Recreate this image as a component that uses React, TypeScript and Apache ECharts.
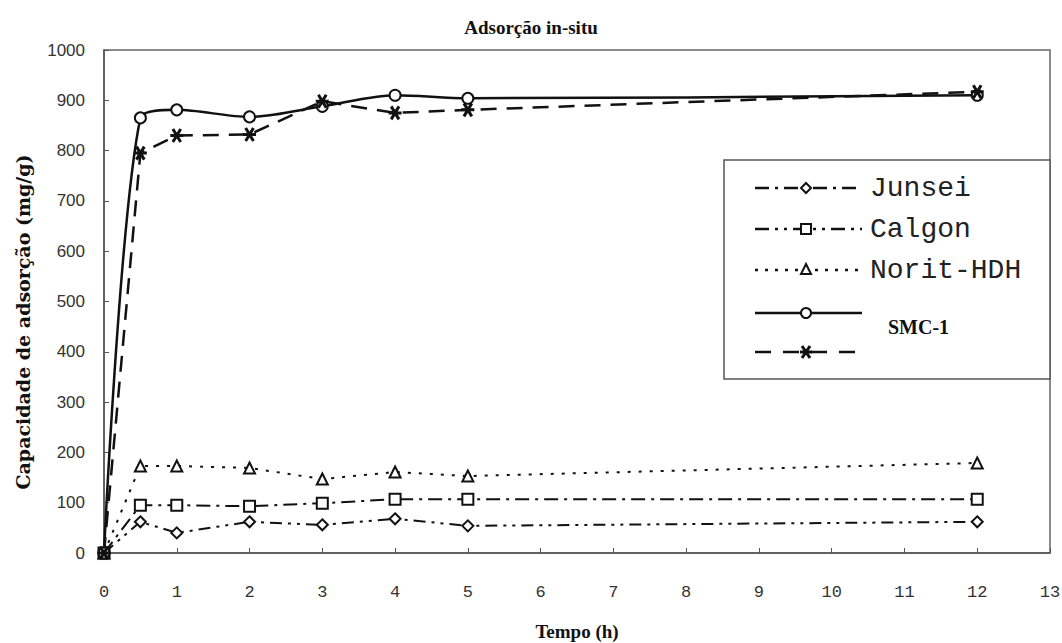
import React, { useEffect, useRef } from "react";
import * as echarts from "echarts";

const xTicks = [0, 1, 2, 3, 4, 5, 6, 7, 8, 9, 10, 11, 12, 13];
const times = [0, 0.5, 1, 2, 3, 4, 5, 12];
const junsei = [0, 62, 40, 62, 56, 68, 54, 62];
const calgon = [0, 95, 95, 93, 99, 107, 107, 107];
const norit = [0, 173, 173, 169, 147, 161, 153, 179];
const smc1 = [0, 865, 881, 867, 888, 910, 904, 910];
const smc1b = [0, 795, 830, 832, 898, 875, 881, 917];
const legendNames = ["Junsei", "Calgon", "Norit-HDH"];
const titleText = "Adsorção in-situ";
const xName = "Tempo (h)";
const yName = "Capacidade de adsorção (mg/g)";

const STAR = "path://M0,5L10,5M2,0L8,10M8,0L2,10";

function pairs(vals: number[]) {
  return times.map((t, i) => [t, vals[i]]);
}

export default function App() {
  const ref = useRef<HTMLDivElement>(null);
  useEffect(() => {
    const chart = echarts.init(ref.current!, null, { renderer: "svg" });
    const mk = { color: "#fff", borderColor: "#111", borderWidth: 2 };
    const line = (dash: any, w = 2) => ({ color: "#111", width: w, type: dash });

    const lx0 = 755, lx1 = 862, mx = 806;
    const rows = [188, 229, 270, 313, 352];
    const dashes: any[] = [[14, 6, 3, 6], [14, 6, 3, 6, 3, 6], [3, 7], null, [16, 12]];
    const g: any[] = [
      { type: "rect", shape: { x: 724, y: 160, width: 326, height: 219 }, style: { fill: "#fff", stroke: "#555", lineWidth: 1.5 }, z: 10 },
    ];
    rows.forEach((y, i) => {
      g.push({ type: "line", shape: { x1: lx0, y1: y, x2: lx1, y2: y }, style: { stroke: "#111", lineWidth: 2.5, lineDash: dashes[i] || undefined }, z: 11 });
    });
    const ms = { fill: "#fff", stroke: "#111", lineWidth: 2 };
    g.push({ type: "polygon", shape: { points: [[mx, rows[0] - 5], [mx + 5, rows[0]], [mx, rows[0] + 5], [mx - 5, rows[0]]] }, style: ms, z: 12 });
    g.push({ type: "rect", shape: { x: mx - 5, y: rows[1] - 5, width: 10, height: 10 }, style: ms, z: 12 });
    g.push({ type: "polygon", shape: { points: [[mx, rows[2] - 6], [mx + 5, rows[2] + 4], [mx - 5, rows[2] + 4]] }, style: ms, z: 12 });
    g.push({ type: "circle", shape: { cx: mx, cy: rows[3], r: 5 }, style: ms, z: 12 });
    const sy = rows[4];
    [[mx - 6, sy, mx + 6, sy], [mx - 4, sy - 6, mx + 4, sy + 6], [mx + 4, sy - 6, mx - 4, sy + 6]].forEach((p) => {
      g.push({ type: "line", shape: { x1: p[0], y1: p[1], x2: p[2], y2: p[3] }, style: { stroke: "#111", lineWidth: 3 }, z: 12 });
    });
    legendNames.forEach((n, i) => {
      g.push({ type: "text", x: 870, y: rows[i], style: { text: n, font: "28px 'Liberation Mono', 'DejaVu Sans Mono', monospace", fill: "#222", verticalAlign: "middle" }, z: 12 });
    });
    g.push({ type: "text", x: 888, y: 327, style: { text: "SMC-1", font: "bold 20px 'Liberation Serif', 'DejaVu Serif', serif", fill: "#111", verticalAlign: "middle" }, z: 12 });
    g.push({ type: "text", x: 531, y: 27, style: { text: titleText, font: "bold 19px 'Liberation Serif', serif", fill: "#111", align: "center", verticalAlign: "middle" } });
    g.push({ type: "text", x: 23, y: 322, rotation: Math.PI / 2, style: { text: yName, font: "bold 19px 'DejaVu Serif', 'Liberation Serif', serif", fill: "#111", align: "center", verticalAlign: "middle" } });

    chart.setOption({
      animation: false,
      backgroundColor: "#fff",
      grid: { left: 104, right: 12, top: 50, bottom: 90, show: true, borderColor: "#666", borderWidth: 1.5, outerBoundsMode: "none", containLabel: false },
      xAxis: {
        type: "value", min: 0, max: 13, interval: 1,
        name: xName, nameLocation: "middle", nameGap: 69,
        nameTextStyle: { fontFamily: "'Liberation Serif', serif", fontWeight: "bold", fontSize: 19, color: "#111" },
        axisLine: { lineStyle: { color: "#555", width: 1.5 } },
        axisTick: { inside: true, length: 5, lineStyle: { color: "#555" } },
        axisLabel: { margin: 31, fontFamily: "'Liberation Mono', monospace", fontSize: 17, color: "#333", formatter: (v: number) => (xTicks.includes(v) ? String(v) : "") },
        splitLine: { show: false },
      },
      yAxis: {
        type: "value", min: 0, max: 1000, interval: 100,
        axisLine: { lineStyle: { color: "#555", width: 1.5 } },
        axisTick: { inside: true, length: 5, lineStyle: { color: "#555" } },
        axisLabel: { margin: 19, fontFamily: "'Liberation Sans', sans-serif", fontSize: 17, color: "#333", formatter: (v: number) => String(v) },
        splitLine: { show: false },
      },
      series: [
        { name: "Junsei", type: "line", data: pairs(junsei), symbol: "diamond", symbolSize: 11, itemStyle: mk, lineStyle: line([12, 6, 3, 6, 3, 6]) },
        { name: "Calgon", type: "line", data: pairs(calgon), symbol: "rect", symbolSize: 11, itemStyle: mk, lineStyle: line([14, 6, 3, 6]) },
        { name: "Norit-HDH", type: "line", data: pairs(norit), symbol: "triangle", symbolSize: 11, itemStyle: mk, lineStyle: line([3, 8]) },
        { name: "SMC-1", type: "line", data: pairs(smc1), symbol: "circle", symbolSize: 11, smooth: 0.3, itemStyle: mk, lineStyle: line("solid", 2.5) },
        { name: "SMC-1 b", type: "line", data: pairs(smc1b), symbol: STAR, symbolSize: 13, itemStyle: { color: "#111", borderColor: "#111", borderWidth: 3 }, lineStyle: line([16, 10], 2.5) },
      ],
      graphic: g,
    });
    return () => chart.dispose();
  }, []);
  return <div ref={ref} style={{ position: "absolute", left: 0, top: 0, width: 1062, height: 643 }} />;
}
